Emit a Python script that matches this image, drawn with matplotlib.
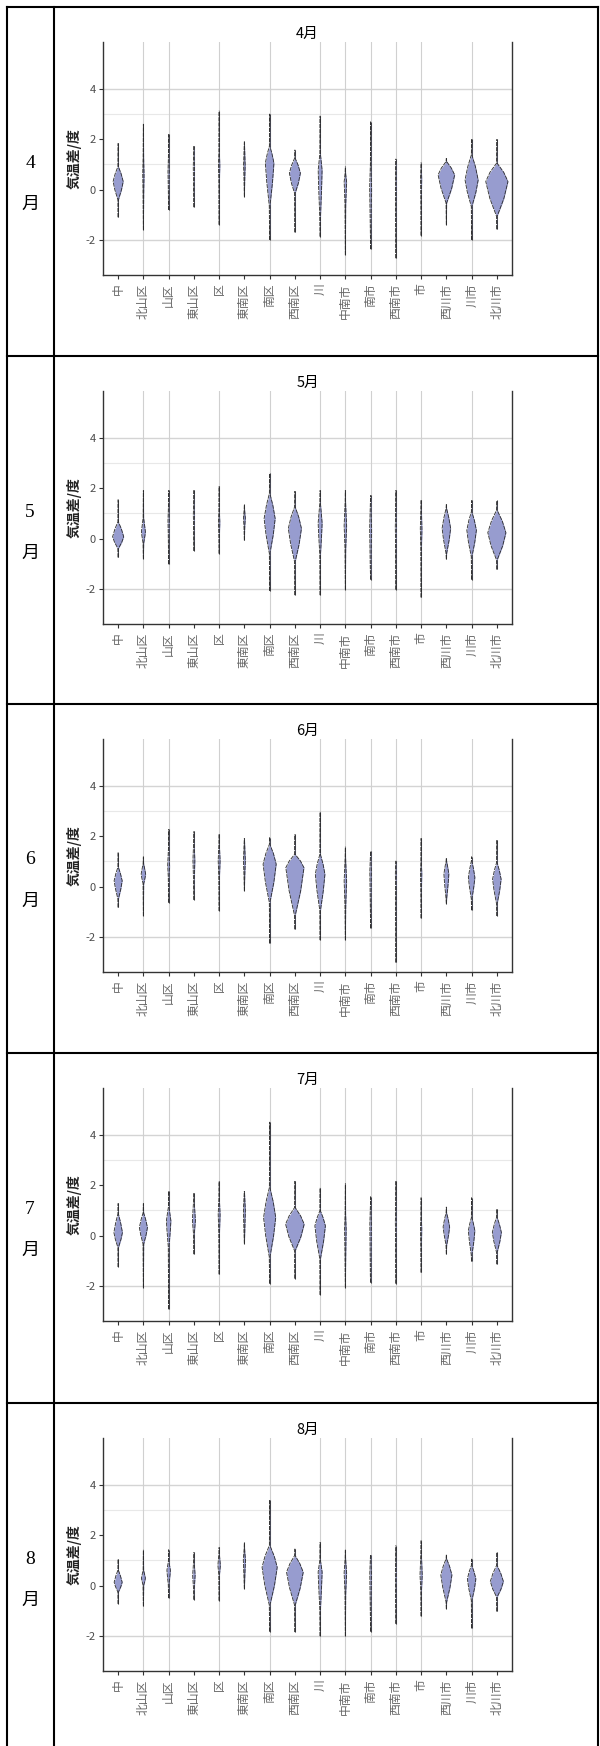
import numpy as np
import matplotlib
matplotlib.use("Agg")
import matplotlib.pyplot as plt
from matplotlib.lines import Line2D

cjk = ["Noto Sans CJK JP", "DejaVu Sans"]
plt.rcParams["font.family"] = cjk

months = ["4月", "5月", "6月", "7月", "8月"]
month_num = ["4", "5", "6", "7", "8"]
regions = ["中", "北山区", "山区", "東山区", "区", "東南区", "南区", "西南区",
           "川", "中南市", "南市", "西南市", "市", "西川市", "川市", "北川市"]
grid_x = [2, 3, 5, 7, 9, 10, 11, 12, 13, 15]

# one row per month, one value per region
y_top = [
    [1.84, 2.61, 2.20, 1.75, 3.13, 1.91, 3.01, 1.58, 2.93, 0.91, 2.70, 1.22, 1.07, 1.25, 2.00, 2.00],
    [1.55, 1.92, 1.92, 1.92, 2.09, 1.36, 2.61, 1.89, 1.92, 1.92, 1.72, 1.92, 1.52, 1.36, 1.52, 1.52],
    [1.35, 1.19, 2.28, 2.19, 2.08, 1.92, 1.95, 2.08, 2.98, 1.58, 1.42, 1.02, 1.92, 1.15, 1.19, 1.87],
    [1.28, 1.28, 1.77, 1.71, 2.17, 1.77, 4.52, 2.17, 1.91, 2.07, 1.55, 2.17, 1.51, 1.14, 1.51, 1.05],
    [1.06, 1.43, 1.43, 1.32, 1.52, 1.72, 3.42, 1.46, 1.72, 1.42, 1.23, 1.59, 1.79, 1.22, 1.06, 1.32],
]
y_bot = [
    [-1.10, -1.60, -0.81, -0.70, -1.40, -0.28, -2.00, -1.70, -1.87, -2.60, -2.37, -2.73, -1.83, -1.40, -2.00, -1.58],
    [-0.75, -0.81, -1.02, -0.49, -0.60, -0.07, -2.08, -2.25, -2.25, -2.03, -1.63, -2.03, -2.34, -0.82, -1.63, -1.23],
    [-0.83, -1.17, -0.64, -0.53, -0.97, -0.17, -2.26, -1.70, -2.13, -2.13, -1.66, -3.02, -1.26, -0.68, -0.94, -1.17],
    [-1.25, -2.07, -2.93, -0.74, -1.54, -0.32, -1.91, -1.71, -2.36, -2.07, -1.87, -1.91, -1.47, -0.74, -1.03, -1.14],
    [-0.73, -0.82, -0.50, -0.56, -0.60, -0.13, -1.83, -1.85, -2.01, -2.01, -1.83, -1.52, -1.22, -0.93, -1.70, -1.03],
]
body_top = [
    [0.91, 1.25, 1.25, 1.60, 1.50, 1.60, 1.71, 1.25, 1.40, 0.60, 0.90, 1.00, 0.90, 1.11, 1.38, 1.05],
    [0.66, 0.80, 1.20, 1.40, 1.10, 1.10, 1.79, 1.26, 1.40, 1.30, 1.50, 1.00, 1.20, 1.19, 1.06, 1.13],
    [0.76, 0.90, 1.40, 1.70, 1.60, 1.70, 1.68, 1.28, 1.28, 1.00, 1.20, 0.90, 0.90, 1.00, 1.00, 0.95],
    [0.85, 0.90, 1.11, 1.30, 1.40, 1.60, 1.91, 1.11, 0.98, 0.80, 1.10, 0.80, 0.70, 0.90, 0.70, 0.72],
    [0.60, 0.60, 0.95, 0.90, 1.20, 1.40, 1.59, 1.19, 1.00, 1.00, 1.20, 0.70, 1.20, 1.06, 0.79, 0.79],
]
body_mode = [
    [0.32, 0.50, 0.60, 0.90, 0.90, 0.90, 1.05, 0.65, 0.75, 0.30, 0.00, 0.30, 0.40, 0.58, 0.38, 0.32],
    [0.07, 0.26, 0.60, 0.90, 0.60, 0.80, 0.79, 0.40, 0.60, 0.50, 0.30, 0.40, 0.30, 0.40, 0.33, 0.23],
    [0.23, 0.49, 0.80, 1.00, 1.00, 1.00, 0.89, 0.75, 0.49, 0.20, 0.50, 0.40, 0.50, 0.49, 0.36, 0.29],
    [0.12, 0.32, 0.58, 0.60, 0.80, 1.00, 0.72, 0.45, 0.38, 0.20, 0.30, 0.50, 0.30, 0.34, 0.19, 0.12],
    [0.13, 0.29, 0.60, 0.40, 0.80, 1.00, 0.73, 0.53, 0.53, 0.50, 0.40, 0.40, 0.40, 0.42, 0.26, 0.16],
]
body_bot = [
    [-0.41, -0.21, -0.05, 0.00, 0.30, 0.30, -0.68, -0.15, -1.20, -0.70, -1.60, -0.50, -0.40, -0.54, -0.68, -1.07],
    [-0.40, -0.20, 0.00, 0.40, 0.10, 0.40, -0.60, -0.93, -0.70, -0.50, -1.40, -0.30, -0.50, -0.60, -0.73, -0.86],
    [-0.50, 0.10, 0.30, 0.10, 0.30, 0.30, -0.64, -1.17, -0.97, -0.90, -0.80, -0.10, -0.30, -0.50, -0.50, -0.70],
    [-0.48, -0.35, -0.50, 0.00, 0.00, 0.00, -0.87, -0.61, -0.94, -1.00, -1.70, 0.00, -0.70, -0.40, -0.80, -0.68],
    [-0.26, 0.00, 0.00, -0.20, 0.40, 0.20, -0.79, -0.79, -1.00, -0.40, -1.10, 0.00, -0.30, -0.66, -0.60, -0.46],
]
body_width = [
    [0.20, 0.03, 0.03, 0.025, 0.03, 0.035, 0.17, 0.22, 0.08, 0.05, 0.04, 0.02, 0.025, 0.33, 0.26, 0.44],
    [0.22, 0.08, 0.03, 0.025, 0.03, 0.04, 0.22, 0.26, 0.08, 0.05, 0.04, 0.025, 0.035, 0.17, 0.19, 0.36],
    [0.16, 0.09, 0.04, 0.04, 0.04, 0.04, 0.26, 0.36, 0.19, 0.05, 0.035, 0.025, 0.03, 0.10, 0.13, 0.17],
    [0.17, 0.16, 0.09, 0.06, 0.04, 0.04, 0.24, 0.37, 0.21, 0.035, 0.035, 0.025, 0.025, 0.13, 0.13, 0.18],
    [0.16, 0.08, 0.07, 0.05, 0.05, 0.045, 0.30, 0.33, 0.08, 0.05, 0.035, 0.025, 0.045, 0.22, 0.17, 0.26],
]

W, H = 600, 1746
row_tops = [7, 356, 704, 1053, 1403]
fill_col = "#979ccf"
edge_col = "#2a2a2a"

fig = plt.figure(figsize=(W / 100, H / 100), dpi=100)

def fx(px):
    return px / W

def fy(px):
    return 1 - px / H

# table borders
for t in row_tops:
    fig.add_artist(Line2D([fx(7), fx(598)], [fy(t), fy(t)], color="black", lw=1.5))
for xv in [7, 54, 598]:
    fig.add_artist(Line2D([fx(xv), fx(xv)], [fy(7), fy(H)], color="black", lw=1.5))

for r, t in enumerate(row_tops):
    fig.text(fx(30), fy(t + 156), month_num[r], fontsize=14, family="Liberation Serif",
             ha="center", va="center")
    fig.text(fx(30), fy(t + 197), "月", fontsize=13, ha="center", va="center")

    ax = fig.add_axes([fx(103), fy(t + 268), fx(512) - fx(103), (233) / H])
    for yv, c, lw in [(4, "#d4d4d4", 1.0), (-2, "#d4d4d4", 1.0), (3, "#e8e8e8", 0.8), (1, "#e8e8e8", 0.8)]:
        ax.axhline(yv, color=c, lw=lw, zorder=0)
    for xv in grid_x:
        ax.axvline(xv, color="#d0d0d0", lw=0.8, zorder=0)

    for i in range(len(regions)):
        x0 = i + 1
        lo, hi = y_bot[r][i], y_top[r][i]
        blo, bm, bhi = body_bot[r][i], body_mode[r][i], body_top[r][i]
        w = body_width[r][i]
        ky = [lo, blo, (blo + bm) / 2, bm, (bm + bhi) / 2, bhi, hi]
        kw = [0.002, 0.01, 0.62 * w, w, 0.62 * w, 0.01, 0.002]
        yy = np.linspace(lo, hi, 200)
        hw = np.interp(yy, ky, kw)
        # thin tails read as a solid dark stroke
        ax.plot([x0, x0], [lo, hi], color="#333333", lw=0.75, solid_capstyle="butt", zorder=1.5)
        ax.fill_betweenx(yy, x0 - hw, x0 + hw, color=fill_col, lw=0, zorder=2)
        for sgn in (-1, 1):
            ax.plot(x0 + sgn * hw, yy, color=edge_col, lw=0.6, ls=(0, (5, 1.2)), zorder=3)

    ax.set_xlim(0.4, 16.6)
    ax.set_ylim(-3.4, 5.87)
    ax.set_yticks([-2, 0, 2, 4])
    ax.set_yticklabels(["-2", "0", "2", "4"])
    ax.set_xticks(range(1, len(regions) + 1))
    ax.set_xticklabels(regions, rotation=90, fontsize=8.5, color="#666666")
    ax.tick_params(axis="y", length=3, color="#333333", labelsize=8, labelcolor="#4d4d4d", pad=2)
    ax.tick_params(axis="x", length=3, color="#333333", pad=3)
    for s in ["left", "bottom", "right"]:
        ax.spines[s].set_color("#333333")
        ax.spines[s].set_linewidth(1.0)
    ax.spines["top"].set_visible(False)
    ax.set_ylabel("気温差/度", fontsize=10, color="#222222", fontweight="bold")
    ax.yaxis.set_label_coords((82 - 103) / 409, 0.5)
    ax.set_title(months[r], fontsize=10.5, pad=3)

fig.savefig("out.png", dpi=100)
